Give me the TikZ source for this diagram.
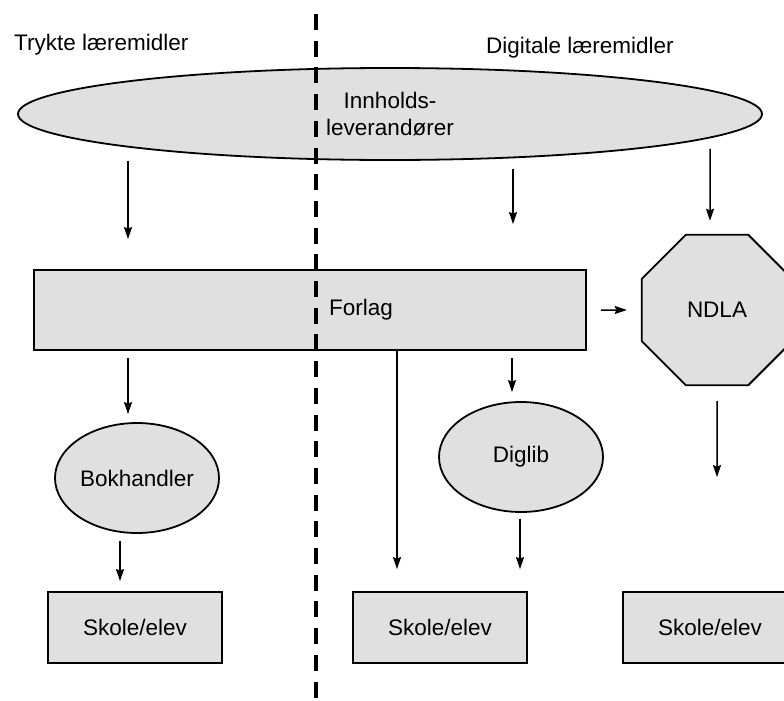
\documentclass[tikz,border=0pt]{standalone}
\usepackage{fontspec}
\setmainfont{Liberation Sans}
\usetikzlibrary{shapes.geometric,arrows.meta}
\begin{document}
\begin{tikzpicture}[x=1pt,y=-1pt,
  lbl/.style={font=\fontsize{22.5}{27}\selectfont, inner sep=0pt},
  box/.style={lbl, draw=black, line width=1.8pt, fill=black!12},
  oval/.style={box, ellipse},
  rectbox/.style={box, rectangle},
  skole/.style={rectbox, minimum width=174pt, minimum height=71pt},
  octa/.style={box, regular polygon, regular polygon sides=8, minimum size=163pt},
  arr/.style={line width=1.5pt, -{Stealth[length=12pt,width=8pt,inset=1.5pt]}},
  divider/.style={line width=4pt, dash pattern=on 16pt off 10.7pt}]
\useasboundingbox (0,0) rectangle (784,701);

% headers
\node[lbl, anchor=west] (hl) at (14,45) {Trykte læremidler};
\node[lbl, anchor=west] (hr) at (486,48) {Digitale læremidler};

% shapes
\node[oval, minimum width=744pt, minimum height=92pt, align=center] (inn) at (390,114) {Innholds-\\leverandører};
\node[rectbox, minimum width=552pt, minimum height=80pt] (forlag) at (310,310) {\hspace*{102pt}Forlag};
\node[octa] (ndla) at (717,310) {NDLA};
\node[oval, minimum width=164pt, minimum height=110pt] (bok) at (137,478) {Bokhandler};
\node[oval, minimum width=164pt, minimum height=110pt] (dig) at (521,457) {Diglib};
\node[skole] (sk1) at (135,627.5) {Skole/elev};
\node[skole] (sk2) at (440,627.5) {Skole/elev};
\node[skole] (sk3) at (710,627.5) {Skole/elev};

% divider
\coordinate (dtop) at (316,14);
\coordinate (dbot) at (316,705);
\draw[divider] (dtop) -- (dbot);

% connectors
\draw[arr, shorten >=30pt] ([xshift=-262pt]inn.south) -- ([xshift=-182pt]forlag.north);
\draw[arr, shorten <=8pt, shorten >=45pt] ([xshift=123pt]inn.south) -- ([xshift=203pt]forlag.north);
\draw[arr, shorten <=-12pt, shorten >=13pt] ([xshift=320pt]inn.south) -- ([xshift=-7pt]ndla.north);
\draw[arr, shorten <=7pt, shorten >=8pt] ([xshift=-182pt]forlag.south) -- ([xshift=-9pt]bok.north);
\draw[arr, shorten >=22pt] ([xshift=87pt]forlag.south) -- ([xshift=-43pt]sk2.north);
\draw[arr, shorten <=7pt, shorten >=9pt] ([xshift=202pt]forlag.south) -- ([xshift=-9pt]dig.north);
\draw[arr, shorten <=6pt, shorten >=22pt] ([xshift=-1pt]dig.south) -- ([xshift=80pt]sk2.north);
\draw[arr, shorten <=15pt, shorten >=114pt] (ndla.south) -- ([xshift=7pt]sk3.north);
\draw[arr, shorten <=7pt, shorten >=10pt] ([xshift=-17pt]bok.south) -- ([xshift=-15pt]sk1.north);
\draw[arr, shorten <=14pt, shorten >=14pt] (forlag.east) -- (ndla.west);
\end{tikzpicture}
\end{document}
